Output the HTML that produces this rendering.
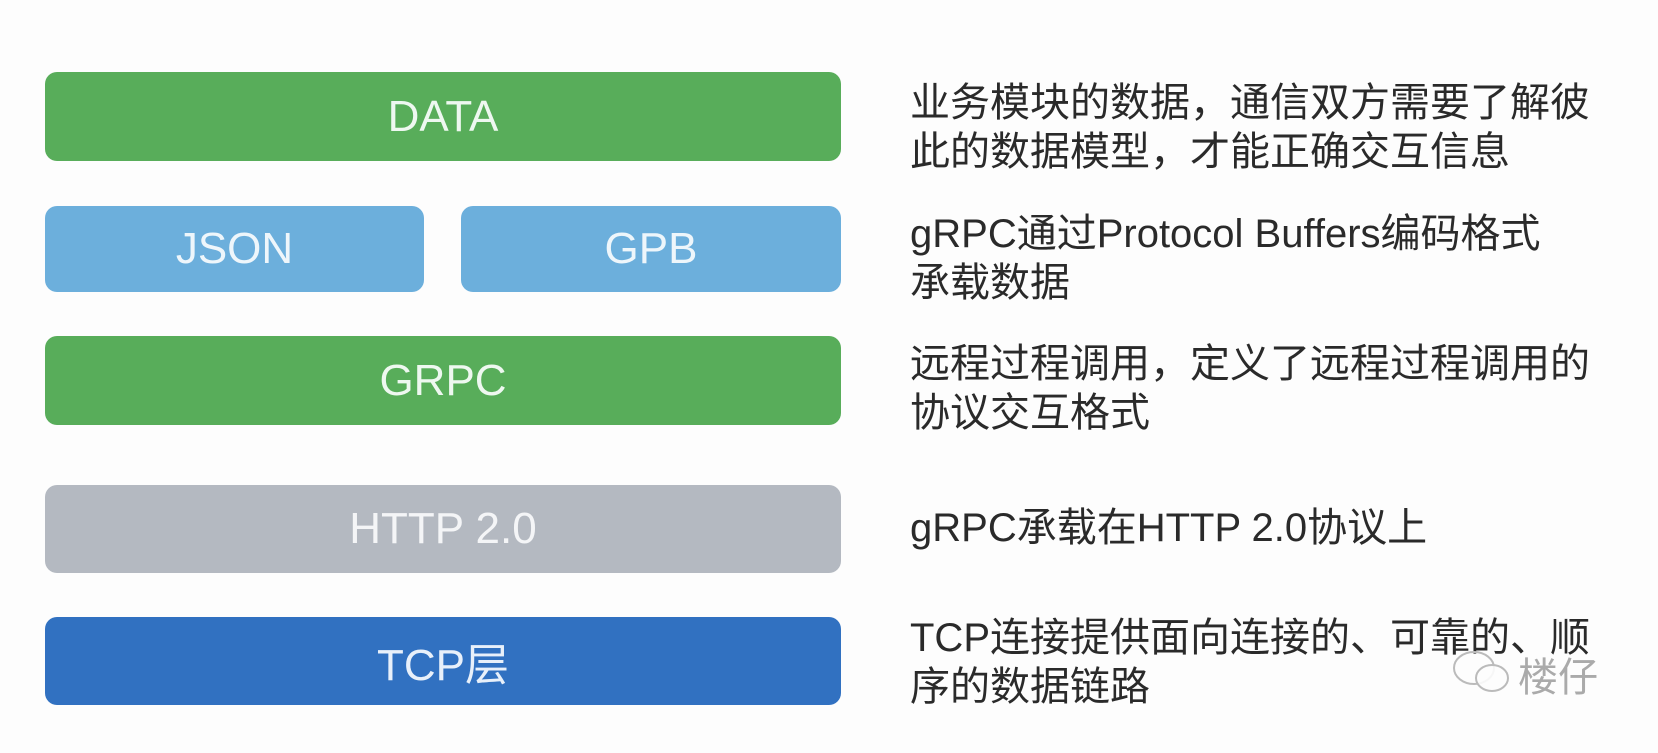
<!DOCTYPE html>
<html><head><meta charset="utf-8"><style>
html,body{margin:0;padding:0;background:#fdfdfd;}
body{width:1658px;height:753px;position:relative;overflow:hidden;font-family:"Liberation Sans","Noto Sans CJK SC",sans-serif;}
.b{position:absolute;border-radius:12px;color:#eef8f0;font-size:44px;display:flex;align-items:center;justify-content:center;}
.g{background:#58ad5a;}
.l{background:#6cafdc;color:#eef6fb;}
.h{background:#b4b9c1;color:#f4f5f7;}
.d{background:#3171c1;color:#e8f0fa;}
.t{position:absolute;left:910px;font-size:40px;line-height:49px;color:#2a2a2a;white-space:nowrap;}
</style></head><body>
<div class="b g" style="left:45px;top:72px;width:796px;height:89px;">DATA</div>
<div class="b l" style="left:45px;top:206px;width:379px;height:86px;">JSON</div>
<div class="b l" style="left:461px;top:206px;width:380px;height:86px;">GPB</div>
<div class="b g" style="left:45px;top:336px;width:796px;height:89px;">GRPC</div>
<div class="b h" style="left:45px;top:485px;width:796px;height:88px;">HTTP 2.0</div>
<div class="b d" style="left:45px;top:617px;width:796px;height:88px;">TCP层</div>

<div class="t" style="top:79px;">业务模块的数据，通信双方需要了解彼<br>此的数据模型，才能正确交互信息</div>
<div class="t" style="top:210px;">gRPC通过Protocol Buffers编码格式<br>承载数据</div>
<div class="t" style="top:340px;">远程过程调用，定义了远程过程调用的<br>协议交互格式</div>
<div class="t" style="top:504px;">gRPC承载在HTTP 2.0协议上</div>
<div class="t" style="top:614px;">TCP连接提供面向连接的、可靠的、顺<br>序的数据链路</div>

<svg style="position:absolute;left:1450px;top:648px;" width="65" height="50" viewBox="0 0 65 50">
<ellipse cx="24" cy="20" rx="20" ry="16" fill="none" stroke="#bbb" stroke-width="2"/>
<ellipse cx="42" cy="30" rx="16" ry="13" fill="rgba(253,253,253,0.9)" stroke="#bbb" stroke-width="2"/>
</svg>
<div style="position:absolute;left:1518px;top:645px;font-size:40px;color:#aaa;font-family:'Liberation Sans','Noto Sans CJK SC',sans-serif;">楼仔</div>
</body></html>
